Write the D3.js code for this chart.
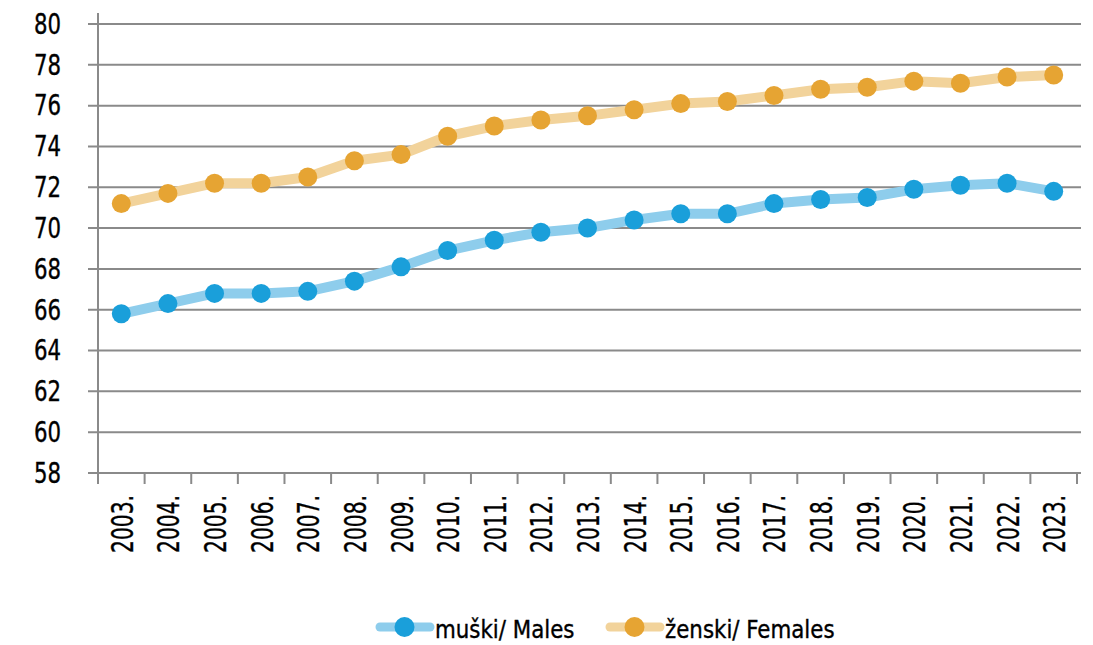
<!DOCTYPE html>
<html><head><meta charset="utf-8">
<script src="https://cdn.jsdelivr.net/npm/d3@7"></script>
<style>
body{margin:0;background:#fff;}
text{font-family:"DejaVu Sans Condensed","Liberation Sans Narrow",sans-serif;fill:#000;stroke:#000;stroke-width:0.35px;}
</style></head>
<body>
<svg id="c" width="1093" height="645"></svg>
<script>
const years = ["2003.","2004.","2005.","2006.","2007.","2008.","2009.","2010.","2011.","2012.","2013.","2014.","2015.","2016.","2017.","2018.","2019.","2020.","2021.","2022.","2023."];
const males = [65.8,66.3,66.8,66.8,66.9,67.4,68.1,68.9,69.4,69.8,70.0,70.4,70.7,70.7,71.2,71.4,71.5,71.9,72.1,72.2,71.8];
const females = [71.2,71.7,72.2,72.2,72.5,73.3,73.6,74.5,75.0,75.3,75.5,75.8,76.1,76.2,76.5,76.8,76.9,77.2,77.1,77.4,77.5];
const yTicks = [58,60,62,64,66,68,70,72,74,76,78,80];
const seriesNames = ["muški/ Males","ženski/ Females"];

const svg = d3.select("#c");
const L = 98, R = 1077, T = 24, B = 473;
const x = d3.scaleBand().domain(years).range([L, R]);
const y = d3.scaleLinear().domain([58, 80]).range([B, T]);

// gridlines
svg.append("g").selectAll("line").data(yTicks).join("line")
  .attr("x1", 88).attr("x2", 1081)
  .attr("y1", d => y(d)).attr("y2", d => y(d))
  .attr("stroke", "#8a8a8a").attr("stroke-width", 2);

// y axis (d3 axis for scale, custom label styling)
const ya = svg.append("g").attr("transform", `translate(${L},0)`)
  .call(d3.axisLeft(y).tickValues(yTicks).tickSize(0));
ya.select(".domain").remove();
ya.selectAll(".tick text").remove();
svg.append("g").selectAll("text").data(yTicks).join("text")
  .attr("transform", d => `translate(61,${y(d) + 9.8}) scale(0.86,1)`)
  .attr("text-anchor", "end").attr("font-size", 27.5).text(d => d);
svg.append("line").attr("x1", L).attr("x2", L).attr("y1", 13).attr("y2", 484)
  .attr("stroke", "#8a8a8a").attr("stroke-width", 2);

// x axis ticks
const xa = svg.append("g").attr("transform", `translate(0,${B})`)
  .call(d3.axisBottom(x).tickSize(0).tickFormat(""));
xa.select(".domain").remove();
svg.append("g").selectAll("line").data(years.concat(["end"])).join("line")
  .attr("x1", (d,i) => L + i * x.step()).attr("x2", (d,i) => L + i * x.step())
  .attr("y1", B).attr("y2", 484).attr("stroke", "#8a8a8a").attr("stroke-width", 2);
svg.append("g").selectAll("text").data(years).join("text")
  .attr("transform", d => `translate(${x(d) + x.bandwidth()/2 + 11.5},495) rotate(-90) scale(0.75,1)`)
  .attr("text-anchor", "end").attr("font-size", 30).text(d => d);

const series = [
  {name: seriesNames[0], values: males, line: "#8ecdec", dot: "#1a9fda"},
  {name: seriesNames[1], values: females, line: "#f2d39b", dot: "#e6a433"}
];
const line = d3.line().x((d,i) => x(years[i]) + x.bandwidth()/2).y(d => y(d));
series.forEach(s => {
  svg.append("path").datum(s.values).attr("d", line).attr("fill", "none")
    .attr("stroke", s.line).attr("stroke-width", 10).attr("stroke-linejoin", "round");
  svg.append("g").selectAll("circle").data(s.values).join("circle")
    .attr("cx", (d,i) => x(years[i]) + x.bandwidth()/2).attr("cy", d => y(d))
    .attr("r", 9.5).attr("fill", s.dot);
});

// legend
const legX = [380, 610];
series.forEach((s, i) => {
  const g = svg.append("g").attr("transform", `translate(${legX[i]},627)`);
  g.append("line").attr("x1", 0).attr("x2", 50).attr("y1", 0).attr("y2", 0)
    .attr("stroke", s.line).attr("stroke-width", 9).attr("stroke-linecap", "round");
  g.append("circle").attr("cx", 24.5).attr("cy", 0).attr("r", 10).attr("fill", s.dot);
  g.append("text").attr("transform", "translate(55,11) scale(0.95,1)")
    .attr("font-size", 25).text(s.name);
});
</script>
</body></html>
